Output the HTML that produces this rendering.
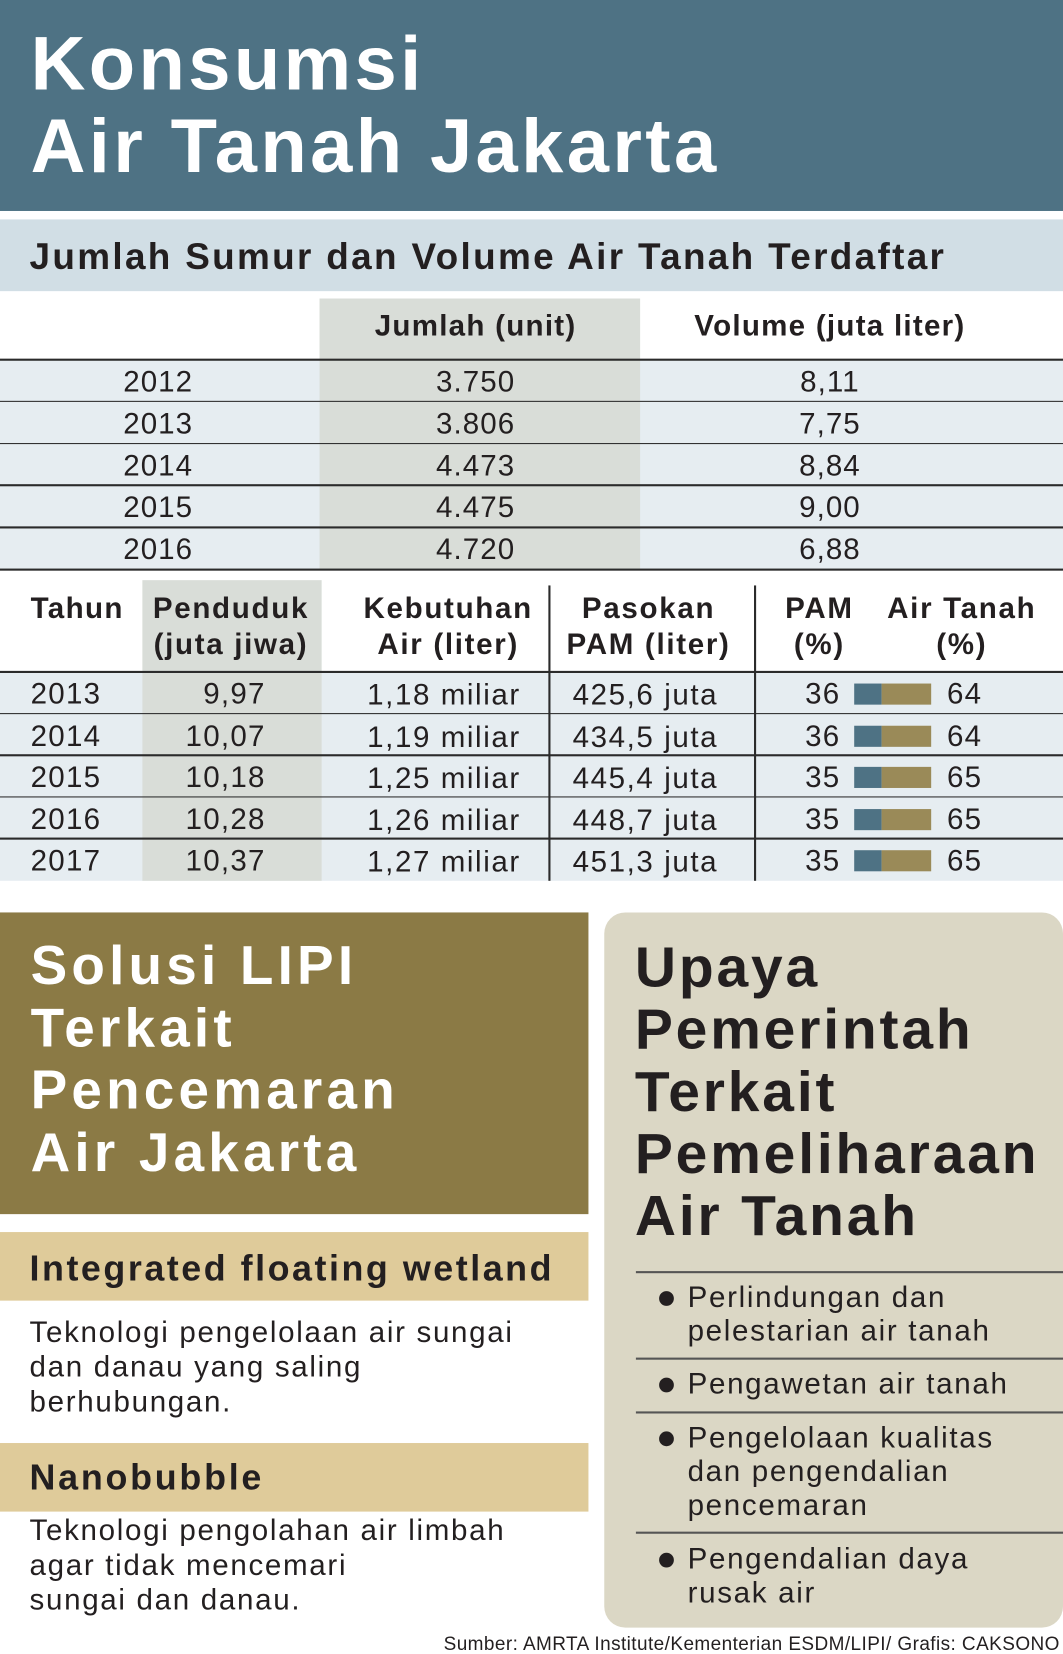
<!DOCTYPE html>
<html><head><meta charset="utf-8">
<style>
html,body{margin:0;padding:0;background:#fff;}
body{width:1063px;height:1654px;overflow:hidden;position:relative;}
#wrap{position:absolute;left:0;top:0;width:1008px;height:1568px;transform-origin:0 0;transform:scale(1.05456,1.05485);font-family:"Liberation Sans",Arial,sans-serif;color:#231f20;}
.abs{position:absolute;}
.t{position:absolute;white-space:nowrap;}
.b{font-weight:bold;}
</style></head><body>
<div id="wrap">
  <div class="abs" style="left:0;top:0;width:1008px;height:200px;background:#4e7284;"></div>
  <div class="t b" style="left:29px;top:22px;font-size:72px;line-height:78px;color:#fff;letter-spacing:3.2px;">Konsumsi<br>Air Tanah Jakarta</div>

  <div class="abs" style="left:0;top:208px;width:1008px;height:68px;background:#d1dee5;"></div>
  <div class="t b" style="left:28px;top:224px;font-size:35px;line-height:40px;letter-spacing:2.2px;">Jumlah Sumur dan Volume Air Tanah Terdaftar</div>

  <div id="t1"></div>
  <div id="t2"></div>

  <div class="abs" style="left:0;top:865px;width:558px;height:286px;background:#8b7a45;"></div>
  <div class="t b" style="left:29px;top:887px;font-size:52px;line-height:59px;color:#fff;letter-spacing:4px;">Solusi LIPI<br>Terkait<br>Pencemaran<br>Air Jakarta</div>

  <div class="abs" style="left:0;top:1168px;width:558px;height:65px;background:#dfcb9a;"></div>
  <div class="t b" style="left:28px;top:1183px;font-size:34px;line-height:40px;letter-spacing:2.4px;">Integrated floating wetland</div>
  <div class="t" style="left:28px;top:1246px;font-size:28px;line-height:33px;letter-spacing:1.6px;">Teknologi pengelolaan air sungai<br>dan danau yang saling<br>berhubungan.</div>

  <div class="abs" style="left:0;top:1368px;width:558px;height:65px;background:#dfcb9a;"></div>
  <div class="t b" style="left:28px;top:1381px;font-size:34px;line-height:40px;letter-spacing:2.6px;">Nanobubble</div>
  <div class="t" style="left:28px;top:1434px;font-size:28px;line-height:33px;letter-spacing:1.6px;">Teknologi pengolahan air limbah<br>agar tidak mencemari<br>sungai dan danau.</div>

  <div class="abs" style="left:573px;top:865px;width:435px;height:678px;background:#dbd7c5;border-radius:20px;"></div>
  <div class="t b" style="left:602px;top:888px;font-size:54px;line-height:59px;letter-spacing:2.7px;">Upaya<br>Pemerintah<br>Terkait<br>Pemeliharaan<br>Air Tanah</div>
  <div id="list"></div>

  <div class="t" style="right:3px;top:1548px;font-size:18px;line-height:20px;letter-spacing:0.4px;">Sumber: AMRTA Institute/Kementerian ESDM/LIPI/ Grafis: CAKSONO</div>
</div>
<script>
// Table 1 data
const years1 = ["2012","2013","2014","2015","2016"];
const wells = ["3.750","3.806","4.473","4.475","4.720"];
const volumes = ["8,11","7,75","8,84","9,00","6,88"];
// Table 2 data
const years2 = ["2013","2014","2015","2016","2017"];
const population = ["9,97","10,07","10,18","10,28","10,37"];
const demand = ["1,18 miliar","1,19 miliar","1,25 miliar","1,26 miliar","1,27 miliar"];
const supply = ["425,6 juta","434,5 juta","445,4 juta","448,7 juta","451,3 juta"];
const pamPct = [36,36,35,35,35];
const groundPct = [64,64,65,65,65];
const listItems = ["Perlindungan dan<br>pelestarian air tanah","Pengawetan air tanah","Pengelolaan kualitas<br>dan pengendalian<br>pencemaran","Pengendalian daya<br>rusak air"];

function box(parent,css){const d=document.createElement('div');d.className='abs';d.style.cssText=css;parent.appendChild(d);return d;}
function txt(parent,html,css){const d=document.createElement('div');d.className='t';d.innerHTML=html;d.style.cssText=css;parent.appendChild(d);return d;}
function center(parent,html,cx,top,size,bold,ls){const d=txt(parent,html,`left:${cx-200}px;width:400px;text-align:center;top:${top}px;font-size:${size}px;line-height:${size+6}px;letter-spacing:${ls||0}px;`+(bold?'font-weight:bold;':''));return d;}

const t1=document.getElementById('t1');
let e=box(t1,'left:0;top:341px;width:1008px;height:199px;background:#e6edf1;');


e=box(t1,'left:303px;top:283px;width:304px;height:257px;background:#d9ddd8;');


e=center(t1,'Jumlah (unit)',451,292,28,true,1.2);


e=center(t1,'Volume (juta liter)',787,292,28,true,1.2);


const rowH=39.8;
for(let i=0;i<years1.length;i++){
  const y=341+i*rowH;
  e=box(t1,`left:0;top:${y-1}px;width:1008px;height:1.5px;background:#2b2b2b;`);
  
  
  e=center(t1,years1[i],150,y+4,28,false,1);
  
  
  e=center(t1,wells[i],451,y+4,28,false,1);
  
  
  e=center(t1,volumes[i],787,y+4,28,false,1);
  
  
}
e=box(t1,'left:0;top:539px;width:1008px;height:1.5px;background:#2b2b2b;');



const t2=document.getElementById('t2');
e=box(t2,'left:0;top:637px;width:1008px;height:198px;background:#e6edf1;');


e=box(t2,'left:135px;top:550px;width:170px;height:285px;background:#d9ddd8;');


e=box(t2,'left:520px;top:555px;width:1.5px;height:280px;background:#2b2b2b;');


e=box(t2,'left:715px;top:555px;width:1.5px;height:280px;background:#2b2b2b;');


e=txt(t2,'Tahun','left:29px;top:560px;font-size:28px;line-height:34px;font-weight:bold;letter-spacing:1.3px;');


const hdrs=[['Penduduk<br>(juta jiwa)',219,'penduduk-header'],['Kebutuhan<br>Air (liter)',425,'kebutuhan-header'],['Pasokan<br>PAM (liter)',615,'pasokan-header'],['PAM<br>(%)',777,'pam-header'],['Air Tanah<br>(%)',912,'air-tanah-header']];
hdrs.forEach(h=>{
  const d=txt(t2,h[0],`left:${h[1]-150}px;width:300px;text-align:center;top:560px;font-size:28px;line-height:34px;font-weight:bold;letter-spacing:1.6px;`);
  
  
});
// bar axis: 0..100% over width
const barX=810, barW=73;
const xScale=v=>v/100*barW;
for(let i=0;i<years2.length;i++){
  const y=637+i*39.6;
  e=box(t2,`left:0;top:${y-1}px;width:1008px;height:1.5px;background:#2b2b2b;`);
  
  
  e=txt(t2,years2[i],`left:29px;top:${y+5}px;font-size:28px;line-height:32px;letter-spacing:1.2px;`);
  
  
  e=txt(t2,population[i],`left:130px;width:122px;text-align:right;top:${y+5}px;font-size:28px;line-height:32px;letter-spacing:1.2px;`);
  
  
  e=center(t2,demand[i],421,y+5,28,false,1.5);
  
  
  e=center(t2,supply[i],612,y+5,28,false,1.5);
  
  
  e=txt(t2,String(pamPct[i]),`left:700px;width:97px;text-align:right;top:${y+5}px;font-size:28px;line-height:32px;letter-spacing:1.2px;`);
  
  
  e=box(t2,`left:${barX}px;top:${y+11}px;width:${xScale(pamPct[i])}px;height:20px;background:#4e7284;`);
  
  
  e=box(t2,`left:${barX+xScale(pamPct[i])}px;top:${y+11}px;width:${xScale(groundPct[i])}px;height:20px;background:#9a8a58;`);
  
  
  e=txt(t2,String(groundPct[i]),`left:898px;top:${y+5}px;font-size:28px;line-height:32px;letter-spacing:1.2px;`);
  
  
}

const list=document.getElementById('list');
const lineYs=[1205,1287,1338,1452];
const textYs=[1214,1296,1347,1462];
lineYs.forEach((ly,i)=>{
  let d=box(list,`left:603px;top:${ly}px;width:405px;height:1.5px;background:#555;`);
  
  
  d=box(list,`left:625px;top:${textYs[i]+10}px;width:14px;height:14px;border-radius:50%;background:#231f20;`);
  
  
  d=txt(list,listItems[i],`left:652px;top:${textYs[i]}px;font-size:28px;line-height:32px;letter-spacing:1.6px;`);
  
  
});
</script>
</body></html>
